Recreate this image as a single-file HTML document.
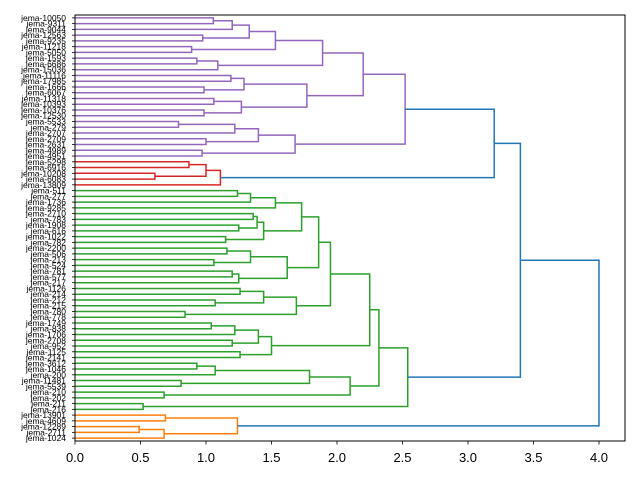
<!DOCTYPE html>
<html><head><meta charset="utf-8"><style>
html,body{margin:0;padding:0;background:#fff;}
svg{display:block;font-family:"Liberation Sans","DejaVu Sans",sans-serif;}
</style></head><body>
<svg id="s" width="640" height="480" xmlns="http://www.w3.org/2000/svg"></svg>
<script>
var labels=["10050","9311","9044","12563","9235","11218","5050","1593","6686","15036","11116","17985","1666","6067","11318","10393","10376","12530","5533","279","2707","2709","2631","4989","4951","5298","6916","10208","6083","13809","511","277","1736","9285","2710","783","1908","616","1022","782","2200","506","213","524","781","577","217","1126","214","212","215","780","778","1749","838","1706","2708","952","1125","2141","3612","1046","200","11481","5539","210","202","211","216","13901","4609","12289","2711","1024"];
var N=labels.length;
function Y(i){return 15+426*(10*i+5)/(10*N);}
function X(v){return 75+131*v;}
function n(a,b,h,c){return {a:a,b:b,h:h,c:c};}
var P='#9467bd',R='#d62728',G='#2ca02c',O='#ff7f0e',B='#1f77b4';
var A=n(n(n(n(n(0,1,1.056),2,1.20),n(3,4,0.975),1.33),n(5,6,0.89),1.53),n(n(7,8,0.93),9,1.09),1.89);
var Bc=n(n(n(10,11,1.19),n(12,13,0.985),1.29),n(n(14,15,1.06),n(16,17,0.985),1.27),1.77);
var C=n(n(n(n(18,19,0.79),20,1.22),n(21,22,1.0),1.40),n(23,24,0.97),1.68);
var PP=n(n(A,Bc,2.2),C,2.52);
var RR=n(n(n(25,26,0.87),n(27,28,0.61),1.0),29,1.11);
var PR=n(PP,RR,3.2,B);
var g1=n(n(n(30,31,1.24),32,1.34),33,1.53);
var g2=n(n(n(34,35,1.36),n(36,37,1.25),1.39),n(38,39,1.15),1.44);
var g3=n(n(n(40,41,1.16),n(42,43,1.06),1.34),n(n(44,45,1.20),46,1.25),1.62);
var g4=n(n(n(47,48,1.26),n(49,50,1.07),1.44),n(51,52,0.84),1.69);
var g5=n(n(n(n(53,54,1.04),55,1.22),n(56,57,1.20),1.40),n(58,59,1.26),1.50);
var g6=n(n(n(n(60,61,0.93),62,1.07),n(63,64,0.81),1.79),n(65,66,0.68),2.1);
var GG=n(n(n(n(n(g1,g2,1.73),g3,1.86),g4,1.95),g5,2.25),g6,2.32);
GG=n(GG,n(67,68,0.52),2.54);
var PRG=n(PR,GG,3.4,B);
var OO=n(n(69,70,0.69),n(n(71,72,0.49),73,0.68),1.24);
var root=n(PRG,OO,4.0,B);
var out='';
function walk(t,col){
 if(typeof t==='number') return {y:Y(t),h:0};
 var c=t.c||col;
 var l=walk(t.a,t.c?defc(t.a):c), r=walk(t.b,t.c?defc(t.b):c);
 out+='<path d="M'+X(l.h)+' '+l.y+'H'+X(t.h)+'V'+r.y+'H'+X(r.h)+'" fill="none" stroke="'+c+'" stroke-width="1.5"/>';
 return {y:(l.y+r.y)/2,h:t.h};
}
function defc(t){
 if(t===PP)return P; if(t===RR)return R; if(t===GG)return G; if(t===OO)return O; return B;
}
walk(root,B);
var s='<rect x="75" y="15" width="550" height="426" fill="none" stroke="#000" stroke-width="1"/>';
for(var i=0;i<N;i++){s+='<line x1="72" x2="75" y1="'+Y(i)+'" y2="'+Y(i)+'" stroke="#000" stroke-width="0.8"/><text x="66" y="'+(Y(i)+3)+'" font-size="8.5" text-anchor="end" fill="#000">jema-'+labels[i]+'</text>';}
for(var v=0;v<=4;v+=0.5){var x=X(v);s+='<line x1="'+x+'" x2="'+x+'" y1="441" y2="444.5" stroke="#000" stroke-width="0.8"/><text x="'+x+'" y="462" font-size="13" text-anchor="middle" fill="#000">'+v.toFixed(1)+'</text>';}
document.getElementById('s').innerHTML=out+s;
</script>
</body></html>
